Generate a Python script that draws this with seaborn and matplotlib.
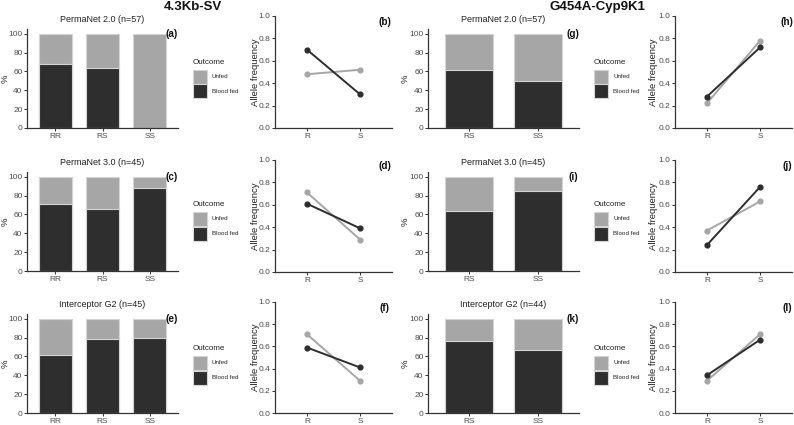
import matplotlib
matplotlib.use("Agg")
import matplotlib.pyplot as plt
import seaborn as sns
import pandas as pd
import numpy as np
from matplotlib.patches import Rectangle

# ---------------- data ----------------
genotypes_sv = ["RR", "RS", "SS"]
genotypes_cyp = ["RS", "SS"]
alleles = ["R", "S"]
outcomes = ["Unfed", "Blood fed"]

nets_sv = ["PermaNet 2.0 (n=57)", "PermaNet 3.0 (n=45)", "Interceptor G2 (n=45)"]
nets_cyp = ["PermaNet 2.0 (n=57)", "PermaNet 3.0 (n=45)", "Interceptor G2 (n=44)"]

# % blood fed per genotype (rest = unfed)
sv_fed_pn2 = [68, 64, 0]
sv_fed_pn3 = [71, 66, 88]
sv_fed_ig2 = [62, 79, 80]
cyp_fed_pn2 = [62, 50]
cyp_fed_pn3 = [64, 85]
cyp_fed_ig2 = [76, 67]

# allele frequencies (R, S)
sv_af_fed_pn2 = [0.70, 0.30]
sv_af_unfed_pn2 = [0.48, 0.52]
sv_af_fed_pn3 = [0.61, 0.39]
sv_af_unfed_pn3 = [0.71, 0.29]
sv_af_fed_ig2 = [0.59, 0.41]
sv_af_unfed_ig2 = [0.71, 0.29]
cyp_af_fed_pn2 = [0.28, 0.72]
cyp_af_unfed_pn2 = [0.22, 0.78]
cyp_af_fed_pn3 = [0.24, 0.76]
cyp_af_unfed_pn3 = [0.37, 0.63]
cyp_af_fed_ig2 = [0.34, 0.66]
cyp_af_unfed_ig2 = [0.29, 0.71]

tags_bar_sv = ["(a)", "(c)", "(e)"]
tags_line_sv = ["(b)", "(d)", "(f)"]
tags_bar_cyp = ["(g)", "(i)", "(k)"]
tags_line_cyp = ["(h)", "(j)", "(l)"]

# ---------------- style ----------------
sns.set_style("ticks")
plt.rcParams["font.family"] = ["Liberation Sans", "DejaVu Sans"]
DARK = "#2e2e2e"
GRAY = "#a6a6a6"
EDGE = "#d4d4d4"
AXC = "#333333"
TXT = "#4d4d4d"
plt.rcParams.update({
    "axes.edgecolor": AXC, "axes.linewidth": 0.9,
    "xtick.color": AXC, "ytick.color": AXC,
    "xtick.labelcolor": TXT, "ytick.labelcolor": TXT,
    "xtick.major.size": 2.0, "ytick.major.size": 2.0,
    "xtick.major.width": 0.7, "ytick.major.width": 0.7,
    "xtick.labelsize": 6.0, "ytick.labelsize": 6.0,
    "xtick.major.pad": 1.6, "ytick.major.pad": 1.2,
})

W, H = 794, 425
fig = plt.figure(figsize=(W / 100, H / 100), dpi=100)


def add_ax(x0, x1, ytop, ybot):
    return fig.add_axes([x0 / W, 1 - ybot / H, (x1 - x0) / W, (ybot - ytop) / H])


def bar_panel(ax, genos, fed, title):
    unfed = [100 - f for f in fed]
    total = [f + u for f, u in zip(fed, unfed)]
    sns.barplot(x=genos, y=total, color=GRAY, saturation=1, width=0.7,
                edgecolor=EDGE, linewidth=0.8, ax=ax)
    sns.barplot(x=genos, y=fed, color=DARK, saturation=1, width=0.7,
                edgecolor=EDGE, linewidth=0.8, ax=ax)
    ax.set_xlim(-0.6, len(genos) - 0.4)
    ax.set_ylim(0, 105)
    ax.set_yticks([0, 20, 40, 60, 80, 100])
    ax.set_ylabel("")
    ax.set_xlabel("")
    ax.set_title(title, fontsize=6.5, color="#222222", pad=5)
    sns.despine(ax=ax)


def line_panel(ax, fed, unfed):
    df = pd.DataFrame({
        "Allele": alleles * 2,
        "Frequency": list(unfed) + list(fed),
        "Outcome": [outcomes[0]] * 2 + [outcomes[1]] * 2,
    })
    sns.pointplot(data=df, x="Allele", y="Frequency", hue="Outcome",
                  hue_order=outcomes, palette={"Unfed": GRAY, "Blood fed": DARK},
                  markers="o", markersize=3.4, linewidth=1.4, dodge=False,
                  legend=False, ax=ax)
    ax.set_xlim(-0.6, 1.6)
    ax.set_ylim(0, 1)
    ax.set_yticks([0, 0.2, 0.4, 0.6, 0.8, 1.0])
    ax.set_yticklabels(["0.0", "0.2", "0.4", "0.6", "0.8", "1.0"])
    ax.set_ylabel("")
    ax.set_xlabel("")
    sns.despine(ax=ax)


def legend_block(x, ytxt, ybox):
    fig.text(x / W, 1 - ytxt / H, "Outcome", fontsize=5.8, color="#222222",
             va="center", ha="left")
    for i, (lab, col) in enumerate(zip(outcomes, [GRAY, DARK])):
        y0 = ybox + i * 14.5
        fig.patches.append(Rectangle((x / W, 1 - (y0 + 14) / H), 14 / W, 14 / H,
                                     transform=fig.transFigure, facecolor=col,
                                     edgecolor=EDGE, linewidth=0.8))
        fig.text((x + 19) / W, 1 - (y0 + 7) / H, lab, fontsize=4.5,
                 color="#222222", va="center", ha="left")


def ylab(x, yc, s):
    fig.text(x / W, 1 - yc / H, s, rotation=90, fontsize=6.8, color="#222222",
             ha="center", va="center")


# row geometry: (bar top, bar bottom, line top, line bottom, legend text y, legend box y)
rows = [
    (29, 128, 16, 128, 62, 70),
    (172, 271, 160, 272, 204, 212),
    (314, 413, 302, 413, 348, 356),
]

sv_fed = [sv_fed_pn2, sv_fed_pn3, sv_fed_ig2]
cyp_fed = [cyp_fed_pn2, cyp_fed_pn3, cyp_fed_ig2]
sv_af = [(sv_af_fed_pn2, sv_af_unfed_pn2), (sv_af_fed_pn3, sv_af_unfed_pn3),
         (sv_af_fed_ig2, sv_af_unfed_ig2)]
cyp_af = [(cyp_af_fed_pn2, cyp_af_unfed_pn2), (cyp_af_fed_pn3, cyp_af_unfed_pn3),
          (cyp_af_fed_ig2, cyp_af_unfed_ig2)]

for r, (bt, bb, lt, lb, lty, lby) in enumerate(rows):
    # left half: 4.3Kb-SV
    ax = add_ax(27, 178, bt, bb)
    bar_panel(ax, genotypes_sv, sv_fed[r], nets_sv[r])
    ylab(5, (bt + bb) / 2, "%")
    ax = add_ax(275, 392, lt, lb)
    line_panel(ax, *sv_af[r])
    ylab(255, (lt + lb) / 2, "Allele frequency")
    legend_block(193, lty, lby)
    fig.text(172 / W, 1 - (bt + 5) / H, tags_bar_sv[r], fontsize=7.2, weight="bold",
             ha="center", va="center", color="#111111")
    fig.text(385 / W, 1 - (lt + 6) / H, tags_line_sv[r], fontsize=7.2, weight="bold",
             ha="center", va="center", color="#111111")

    # right half: G454A-Cyp9K1
    ax = add_ax(428, 579, bt, bb)
    bar_panel(ax, genotypes_cyp, cyp_fed[r], nets_cyp[r])
    ylab(405, (bt + bb) / 2, "%")
    ax = add_ax(675, 792, lt, lb)
    line_panel(ax, *cyp_af[r])
    ylab(654, (lt + lb) / 2, "Allele frequency")
    legend_block(594, lty, lby)
    fig.text(573 / W, 1 - (bt + 5) / H, tags_bar_cyp[r], fontsize=7.2, weight="bold",
             ha="center", va="center", color="#111111")
    fig.text(787 / W, 1 - (lt + 6) / H, tags_line_cyp[r], fontsize=7.2, weight="bold",
             ha="center", va="center", color="#111111")

fig.text(193 / W, 1 - 7 / H, "4.3Kb-SV", fontsize=9.5, weight="bold",
         ha="center", va="center", color="#111111")
fig.text(597 / W, 1 - 7 / H, "G454A-Cyp9K1", fontsize=9.5, weight="bold",
         ha="center", va="center", color="#111111")

fig.savefig("out.png", dpi=100)
